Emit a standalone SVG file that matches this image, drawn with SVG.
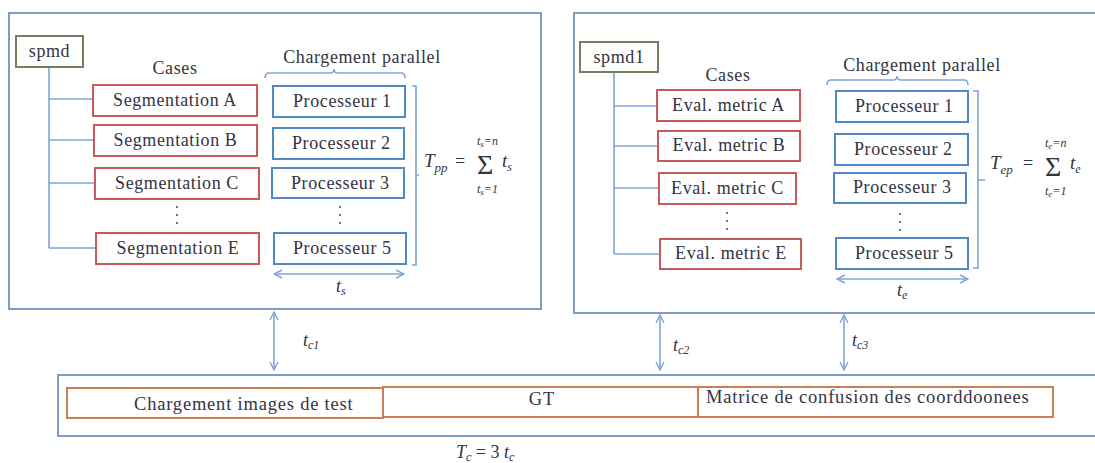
<svg xmlns="http://www.w3.org/2000/svg" width="1095" height="463" viewBox="0 0 1095 463">
<defs>
<marker id="ah" viewBox="0 0 10 10" refX="9" refY="5" markerWidth="10" markerHeight="10" markerUnits="userSpaceOnUse" orient="auto-start-reverse">
<polyline points="1,1 9,5 1,9" fill="none" stroke="#7ea6d6" stroke-width="1.4"/>
</marker>
<style>
.frame{fill:none;stroke:#7f9cc4;stroke-width:2}
.root{fill:#fff;stroke:#737f62;stroke-width:2}
.case{fill:#fff;stroke:#c8585a;stroke-width:2}
.proc{fill:#fff;stroke:#5288c4;stroke-width:2}
.data{fill:#fff;stroke:#cd7d55;stroke-width:2}
.ln{fill:none;stroke:#7ea6d6;stroke-width:1.6}
.t{font-family:"Liberation Serif","Times New Roman",serif;font-size:18px;letter-spacing:0.6px;fill:#33343f}
.b{font-size:18.5px;letter-spacing:0.8px}
.c{text-anchor:middle}
.m{font-family:"Liberation Serif","Times New Roman",serif;font-style:italic;fill:#33343f}
.sig{font-family:"Liberation Serif","Times New Roman",serif;font-size:28px;fill:#33343f}
.dot{fill:#555}
</style>
</defs>

<rect class="frame" x="9" y="13" width="532" height="296"/>
<rect class="frame" x="574" y="13" width="540" height="300"/>
<rect class="frame" x="58" y="375" width="1050" height="61"/>

<g id="connectors">
<path class="ln" d="M49,67 V248 M49,99 H93 M49,140 H94 M49,183 H95 M49,248 H96"/>
<path class="ln" d="M614,72 V254 M614,106 H657 M614,146 H658 M614,188 H659 M614,254 H660"/>
<path class="ln" d="M265,78 Q265,73 269,73 H330 Q334,73 334,69 Q334,73 338,73 H401 Q405,73 405,78"/>
<path class="ln" d="M827,85 Q827,80 831,80 H893 Q897,80 897,76 Q897,80 901,80 H964 Q968,80 968,85"/>
<path class="ln" d="M412,86 H416 V265 H412 M416,175 H419"/>
<path class="ln" d="M973,91 H978 V268 H973 M978,180 H985"/>
<line class="ln" x1="274" y1="274" x2="404" y2="274" marker-start="url(#ah)" marker-end="url(#ah)"/>
<line class="ln" x1="837" y1="279" x2="968" y2="279" marker-start="url(#ah)" marker-end="url(#ah)"/>
<line class="ln" x1="274" y1="312" x2="274" y2="370" marker-start="url(#ah)" marker-end="url(#ah)"/>
<line class="ln" x1="660" y1="315" x2="660" y2="370" marker-start="url(#ah)" marker-end="url(#ah)"/>
<line class="ln" x1="844" y1="315" x2="844" y2="370" marker-start="url(#ah)" marker-end="url(#ah)"/>
</g>

<g id="spmd"><rect class="root" x="16" y="36" width="67" height="31"/><text class="t c" x="49.5" y="57">spmd</text></g>
<text class="t c" x="175" y="74">Cases</text>
<text class="t c" x="362" y="63">Chargement parallel</text>
<g id="segA"><rect class="case" x="93" y="85" width="164" height="31"/><text class="t c" x="175" y="106">Segmentation A</text></g>
<g id="segB"><rect class="case" x="94" y="125" width="163" height="31"/><text class="t c" x="175.5" y="146">Segmentation B</text></g>
<g id="segC"><rect class="case" x="95" y="168" width="164" height="31"/><text class="t c" x="177" y="189">Segmentation C</text></g>
<g id="segE"><rect class="case" x="96" y="233" width="163" height="31"/><text class="t c" x="178" y="254">Segmentation E</text></g>
<g id="dotsL1"><circle class="dot" cx="177" cy="207" r="1.1"/><circle class="dot" cx="177" cy="215" r="1.1"/><circle class="dot" cx="177" cy="223" r="1.1"/></g>
<g id="p1"><rect class="proc" x="273" y="86" width="132" height="31"/><text class="t" x="293" y="107">Processeur 1</text></g>
<g id="p2"><rect class="proc" x="273" y="128" width="131" height="31"/><text class="t" x="292" y="149">Processeur 2</text></g>
<g id="p3"><rect class="proc" x="272" y="168" width="132" height="30"/><text class="t" x="291" y="189">Processeur 3</text></g>
<g id="p5"><rect class="proc" x="274" y="233" width="132" height="31"/><text class="t" x="293" y="254">Processeur 5</text></g>
<g id="dotsL2"><circle class="dot" cx="340" cy="207" r="1.1"/><circle class="dot" cx="340" cy="215" r="1.1"/><circle class="dot" cx="340" cy="223" r="1.1"/></g>
<text class="m" x="336" y="292" font-size="18">t<tspan font-size="12" dy="3">s</tspan></text>
<g id="formulaL">
<text class="m" x="424" y="167" font-size="19">T<tspan font-size="13" dy="5">pp</tspan></text>
<text class="t" x="455" y="167" font-size="18">=</text>
<text class="sig" x="477" y="174">Σ</text>
<text class="m" x="477" y="145" font-size="12">t<tspan font-size="9" dy="2">s</tspan><tspan dy="-2">=n</tspan></text>
<text class="m" x="477" y="193" font-size="12">t<tspan font-size="9" dy="2">s</tspan><tspan dy="-2">=1</tspan></text>
<text class="m" x="502" y="167" font-size="19">t<tspan font-size="12" dy="4">s</tspan></text>
</g>

<g id="spmd1"><rect class="root" x="580" y="42" width="78" height="30"/><text class="t c" x="619" y="63">spmd1</text></g>
<text class="t c" x="728" y="81">Cases</text>
<text class="t c" x="922" y="71">Chargement parallel</text>
<g id="evA"><rect class="case" x="657" y="90" width="143" height="31"/><text class="t c" x="728.5" y="111">Eval. metric A</text></g>
<g id="evB"><rect class="case" x="658" y="131" width="142" height="30"/><text class="t c" x="729" y="151">Eval. metric B</text></g>
<g id="evC"><rect class="case" x="659" y="173" width="137" height="31"/><text class="t c" x="727.5" y="194">Eval. metric C</text></g>
<g id="evE"><rect class="case" x="660" y="239" width="141" height="30"/><text class="t c" x="731" y="259">Eval. metric E</text></g>
<g id="dotsR1"><circle class="dot" cx="727" cy="213" r="1.1"/><circle class="dot" cx="727" cy="221" r="1.1"/><circle class="dot" cx="727" cy="229" r="1.1"/></g>
<g id="q1"><rect class="proc" x="836" y="91" width="132" height="31"/><text class="t" x="855" y="112">Processeur 1</text></g>
<g id="q2"><rect class="proc" x="835" y="134" width="133" height="31"/><text class="t" x="854" y="155">Processeur 2</text></g>
<g id="q3"><rect class="proc" x="834" y="173" width="132" height="30"/><text class="t" x="853" y="193">Processeur 3</text></g>
<g id="q5"><rect class="proc" x="836" y="238" width="132" height="31"/><text class="t" x="855" y="259">Processeur 5</text></g>
<g id="dotsR2"><circle class="dot" cx="900" cy="214" r="1.1"/><circle class="dot" cx="900" cy="222" r="1.1"/><circle class="dot" cx="900" cy="230" r="1.1"/></g>
<text class="m" x="897" y="296" font-size="18">t<tspan font-size="12" dy="3">e</tspan></text>
<g id="formulaR">
<text class="m" x="990" y="169" font-size="19">T<tspan font-size="13" dy="5">ep</tspan></text>
<text class="t" x="1023" y="169" font-size="18">=</text>
<text class="sig" x="1045" y="176">Σ</text>
<text class="m" x="1045" y="147" font-size="12">t<tspan font-size="9" dy="2">e</tspan><tspan dy="-2">=n</tspan></text>
<text class="m" x="1045" y="195" font-size="12">t<tspan font-size="9" dy="2">e</tspan><tspan dy="-2">=1</tspan></text>
<text class="m" x="1070" y="169" font-size="19">t<tspan font-size="12" dy="4">e</tspan></text>
</g>

<text class="m" x="303" y="346" font-size="18">t<tspan font-size="12" dy="3">c1</tspan></text>
<text class="m" x="673" y="351" font-size="18">t<tspan font-size="12" dy="3">c2</tspan></text>
<text class="m" x="852" y="346" font-size="18">t<tspan font-size="12" dy="3">c3</tspan></text>

<g id="load"><rect class="data" x="67" y="388" width="316" height="30"/><text class="t b" x="134" y="410">Chargement images de test</text></g>
<g id="gt"><rect class="data" x="383" y="387" width="315" height="30"/><text class="t b c" x="542" y="405">GT</text></g>
<g id="matrix"><rect class="data" x="698" y="387" width="355" height="30"/><text class="t b" x="706" y="403">Matrice de confusion des coorddoonees</text></g>
<text class="m" x="456" y="458" font-size="18">T<tspan font-size="12" dy="3">c</tspan><tspan dy="-3" font-style="normal"> = 3 </tspan>t<tspan font-size="12" dy="3">c</tspan></text>
</svg>
